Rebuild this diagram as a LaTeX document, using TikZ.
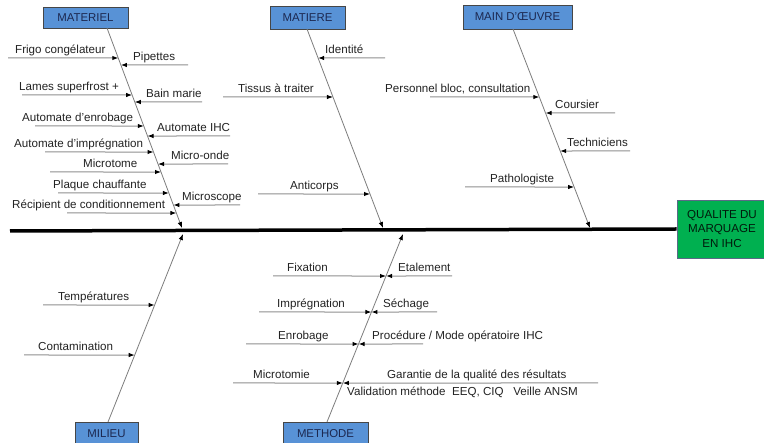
\documentclass[tikz,border=0pt]{standalone}
\usepackage{fontspec}
\setmainfont{Liberation Sans}
\usetikzlibrary{arrows.meta}
\definecolor{boxblue}{RGB}{88,146,214}
\definecolor{boxtxt}{RGB}{28,40,80}
\definecolor{boxedge}{RGB}{70,70,70}
\definecolor{qgreen}{RGB}{0,176,80}
\definecolor{qedge}{RGB}{90,105,135}
\definecolor{linegray}{RGB}{125,125,125}
\definecolor{labtxt}{RGB}{35,35,35}
\tikzset{
  cat/.style={draw=boxedge, fill=boxblue, line width=0.8pt, text=boxtxt, inner sep=0pt, font=\fontsize{11.4}{13}\selectfont},
  effect/.style={draw=qedge, fill=qgreen, line width=0.8pt, text=black!85!qgreen, inner sep=0pt, align=center, font=\fontsize{11.6}{14.5}\selectfont},
  bone/.style={draw=linegray, line width=0.8pt, -{Latex[length=6pt,width=4.5pt,color=black]}},
  br/.style={draw=linegray!85, line width=1pt, -{Latex[length=6pt,width=4.5pt,color=black]}},
  lab/.style={anchor=base west, inner sep=0pt, text=labtxt, font=\fontsize{11.6}{13}\selectfont},
  spine/.style={draw=black, line width=3.5pt}
}
\newcommand\BR[6]{%
  \coordinate (#1s) at (#2,#3);
  \coordinate (#1t) at (intersection of 0,#3--10,#3 and #4a--#4b);
  \draw[br] (#1s) -- (#1t);
  \node[lab] (#1) at (#5,#3-4) {#6};}
\begin{document}
\begin{tikzpicture}[x=1pt,y=-1pt]
\useasboundingbox[fill=white] (0,0) rectangle (764,443);
% effect box and spine
\node[effect, minimum width=90pt, minimum height=58pt] (q) at (722,229) {QUALITE DU\\MARQUAGE\\EN IHC};
\coordinate (s0) at (10,231);
\draw[spine] (s0) -- (q.west);
% category boxes
\node[cat, minimum width=85pt, minimum height=21pt] (mat) at (85.5,17.5) {MATERIEL};
\node[cat, minimum width=75pt, minimum height=23pt] (mtr) at (307.5,17.5) {MATIERE};
\node[cat, minimum width=109pt, minimum height=24pt] (mo) at (517.5,17) {MAIN D'ŒUVRE};
\node[cat, minimum width=63pt, minimum height=24pt] (mil) at (106.5,434) {MILIEU};
\node[cat, minimum width=85pt, minimum height=24pt] (met) at (325.5,434) {METHODE};
% bones
\coordinate (Ma) at (107,28);  \coordinate (Mb) at (182,228);
\coordinate (Ta) at (307,29);  \coordinate (Tb) at (383,228);
\coordinate (Wa) at (513,29);  \coordinate (Wb) at (590,228);
\coordinate (La) at (108,422); \coordinate (Lb) at (183,234);
\coordinate (Ha) at (327,422); \coordinate (Hb) at (403,234);
\draw[bone] (Ma) -- (Mb);
\draw[bone] (Ta) -- (Tb);
\draw[bone] (Wa) -- (Wb);
\draw[bone] (La) -- (Lb);
\draw[bone] (Ha) -- (Hb);
% MATERIEL branches
\BR{m1}{8}{58}{M}{15}{Frigo congélateur}
\BR{m2}{22}{95}{M}{19}{Lames superfrost +}
\BR{m3}{35}{126}{M}{22}{Automate d'enrobage}
\BR{m4}{45}{152}{M}{14}{Automate d'imprégnation}
\BR{m5}{50}{172}{M}{83}{Microtome}
\BR{m6}{58}{193}{M}{53}{Plaque chauffante}
\BR{m7}{67}{213}{M}{12}{Récipient de conditionnement}
\BR{m8}{188}{65}{M}{133}{Pipettes}
\BR{m9}{202}{102}{M}{146}{Bain marie}
\BR{m10}{230}{136}{M}{157}{Automate IHC}
\BR{m11}{228}{164}{M}{171}{Micro-onde}
\BR{m12}{240}{205}{M}{182}{Microscope}
% MATIERE branches
\BR{t1}{223}{97}{T}{238}{Tissus à traiter}
\BR{t2}{258}{194}{T}{290}{Anticorps}
\BR{t3}{385}{58}{T}{325}{Identité}
% MAIN D'OEUVRE branches
\BR{w1}{430}{97}{W}{385}{Personnel bloc, consultation}
\BR{w2}{465}{187}{W}{490}{Pathologiste}
\BR{w3}{615}{113}{W}{555}{Coursier}
\BR{w4}{630}{151}{W}{567}{Techniciens}
% MILIEU branches
\BR{l1}{43}{305}{L}{58}{Températures}
\BR{l2}{24}{355}{L}{38}{Contamination}
% METHODE branches
\BR{h1}{273}{276}{H}{287}{Fixation}
\BR{h2}{259}{312}{H}{277}{Imprégnation}
\BR{h3}{246}{344}{H}{278}{Enrobage}
\BR{h4}{233}{383}{H}{253}{Microtomie}
\BR{h5}{452}{276}{H}{398}{Etalement}
\BR{h6}{437}{312}{H}{383}{Séchage}
\BR{h7}{423}{344}{H}{372}{Procédure / Mode opératoire IHC}
\BR{h8}{598}{383}{H}{387}{Garantie de la qualité des résultats}
\node[lab] (h9) at (347,396) {Validation méthode\ \ EEQ, CIQ\ \ \ Veille ANSM};
\end{tikzpicture}
\end{document}
